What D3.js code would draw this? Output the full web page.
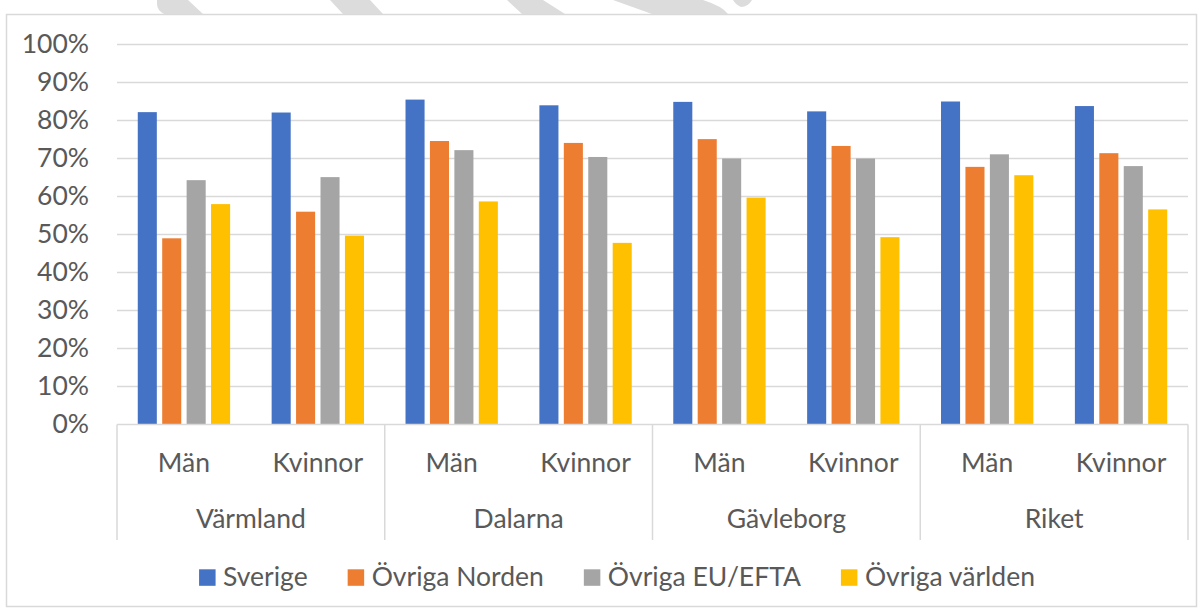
<!DOCTYPE html>
<html>
<head>
<meta charset="utf-8">
<script src="https://cdn.jsdelivr.net/npm/d3@7"></script>
<style>
  body { margin: 0; background: #fff; }
  text { font-family: Lato, "Open Sans", sans-serif; fill: #595959; }
</style>
</head>
<body>
<script>
// data
var regions = ["Värmland", "Dalarna", "Gävleborg", "Riket"];
var genders = ["Män", "Kvinnor"];
var seriesNames = ["Sverige", "Övriga Norden", "Övriga EU/EFTA", "Övriga världen"];
var sverige       = [0.822, 0.821, 0.855, 0.840, 0.849, 0.824, 0.850, 0.838];
var ovrigaNorden  = [0.490, 0.560, 0.746, 0.741, 0.751, 0.733, 0.678, 0.714];
var ovrigaEU      = [0.643, 0.651, 0.722, 0.704, 0.700, 0.700, 0.711, 0.680];
var ovrigaVarlden = [0.580, 0.497, 0.587, 0.478, 0.597, 0.493, 0.656, 0.566];
var colors = ["#4472C4", "#ED7D31", "#A5A5A5", "#FFC000"];

var width = 1203, height = 610;
var plotLeft = 117, plotRight = 1188, plotTop = 44.5, plotBottom = 424.5;
var fontSize = 26.5;

// build rows: one per region/gender
var categories = [];
regions.forEach(function(r) {
  genders.forEach(function(g) { categories.push({region: r, gender: g, key: r + "|" + g}); });
});
var allSeries = [sverige, ovrigaNorden, ovrigaEU, ovrigaVarlden];
var bars = [];
categories.forEach(function(c, i) {
  seriesNames.forEach(function(s, j) {
    bars.push({key: c.key, series: s, value: allSeries[j][i], color: colors[j]});
  });
});

var svg = d3.select("body").append("svg")
  .attr("width", width)
  .attr("height", height);

// faint watermark remains along the top edge
var mark = svg.append("g").attr("fill", "#dcdcdc");
[
  "M157,0 L188,0 L203,14 L164,14 Q157,10 157,4 Z",
  "M330,0 L370,0 L383,14 L343,14 Z",
  "M507,0 L543,0 L565,14 L522,14 Z",
  "M613,0 L703,0 Q722,6 728,14 L652,14 Z",
  "M733,0 L752,0 Q748,7 741,7 Q736,5 733,0 Z"
].forEach(function(p) { mark.append("path").attr("d", p); });

// chart border
svg.append("rect")
  .attr("x", 6.5).attr("y", 14.5)
  .attr("width", 1190).attr("height", 592)
  .attr("fill", "none")
  .attr("stroke", "#d9d9d9")
  .attr("stroke-width", 1.5);

var y = d3.scaleLinear().domain([0, 1]).range([plotBottom, plotTop]);
var x0 = d3.scaleBand().domain(categories.map(function(d) { return d.key; })).range([plotLeft, plotRight]);
var x1 = d3.scaleBand().domain(seriesNames).range([0, x0.bandwidth()])
  .paddingInner(0.22).paddingOuter(0.85);
var xg = d3.scaleBand().domain(regions).range([plotLeft, plotRight]);

// gridlines
svg.append("g")
  .selectAll("line")
  .data(y.ticks(10).filter(function(t) { return t > 0; }))
  .join("line")
    .attr("x1", plotLeft).attr("x2", plotRight)
    .attr("y1", function(d) { return y(d); })
    .attr("y2", function(d) { return y(d); })
    .attr("stroke", "#d9d9d9")
    .attr("stroke-width", 1.5);

// y axis labels
var yAxis = d3.axisLeft(y).ticks(10).tickFormat(d3.format(".0%")).tickSize(0).tickPadding(28);
svg.append("g")
  .attr("transform", "translate(" + plotLeft + ",0)")
  .call(yAxis)
  .call(function(g) { g.select(".domain").remove(); })
  .selectAll("text")
    .attr("font-size", fontSize)
    .attr("fill", "#595959");
svg.selectAll(".tick text").style("font-family", "Lato, 'Open Sans', sans-serif");

// bars
svg.append("g")
  .selectAll("rect")
  .data(bars)
  .join("rect")
    .attr("x", function(d) { return x0(d.key) + x1(d.series); })
    .attr("y", function(d) { return y(d.value); })
    .attr("width", x1.bandwidth())
    .attr("height", function(d) { return y(0) - y(d.value); })
    .attr("fill", function(d) { return d.color; });

// category axis line and group separators
svg.append("line")
  .attr("x1", plotLeft).attr("x2", plotRight)
  .attr("y1", plotBottom).attr("y2", plotBottom)
  .attr("stroke", "#d9d9d9").attr("stroke-width", 1.5);

var seps = regions.map(function(r) { return xg(r); }).concat([plotRight]);
svg.append("g")
  .selectAll("line")
  .data(seps)
  .join("line")
    .attr("x1", function(d) { return d; }).attr("x2", function(d) { return d; })
    .attr("y1", plotBottom).attr("y2", 540)
    .attr("stroke", "#d9d9d9").attr("stroke-width", 1.5);

svg.append("g")
  .selectAll("text")
  .data(categories)
  .join("text")
    .attr("x", function(d) { return x0(d.key) + x0.bandwidth() / 2; })
    .attr("y", 472)
    .attr("text-anchor", "middle")
    .attr("font-size", fontSize)
    .text(function(d) { return d.gender; });

svg.append("g")
  .selectAll("text")
  .data(regions)
  .join("text")
    .attr("x", function(d) { return xg(d) + xg.bandwidth() / 2; })
    .attr("y", 528)
    .attr("text-anchor", "middle")
    .attr("font-size", fontSize)
    .text(function(d) { return d; });

// legend
var legend = svg.append("g");
var items = legend.selectAll("g")
  .data(seriesNames)
  .join("g");
items.append("rect")
  .attr("width", 16.5).attr("height", 16.5)
  .attr("y", 569.3)
  .attr("fill", function(d, i) { return colors[i]; });
items.append("text")
  .attr("x", 24)
  .attr("y", 586)
  .attr("font-size", fontSize)
  .text(function(d) { return d; });

var pos = 0;
items.each(function() {
  var g = d3.select(this);
  g.attr("transform", "translate(" + pos + ",0)");
  pos += 24 + g.select("text").node().getComputedTextLength() + 40;
});
var total = pos - 40;
legend.attr("transform", "translate(" + (617 - total / 2) + ",0)");
</script>
</body>
</html>
